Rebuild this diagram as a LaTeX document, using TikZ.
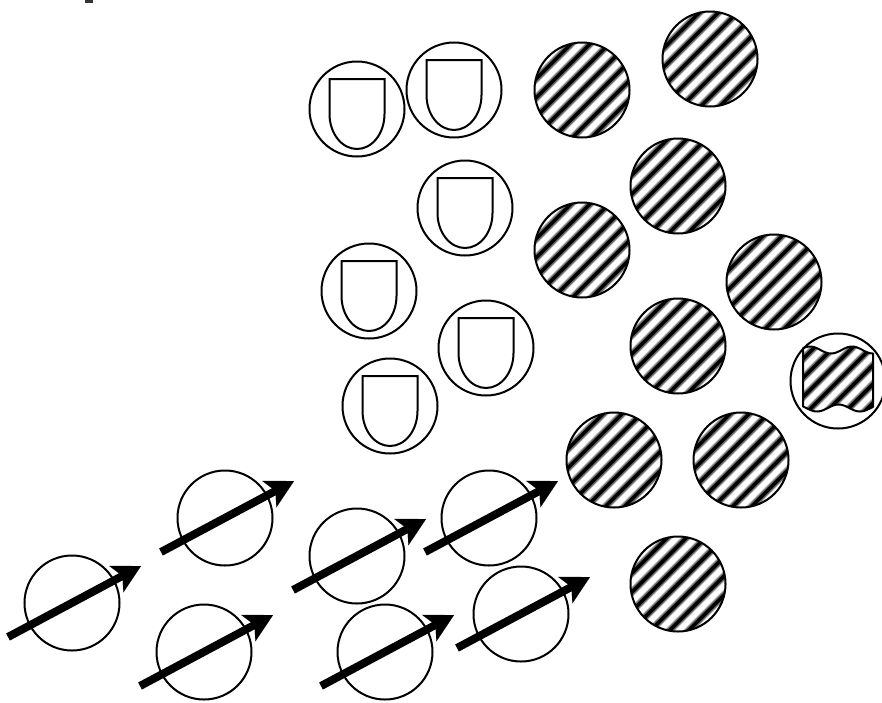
\documentclass[tikz,border=0pt]{standalone}
\usetikzlibrary{arrows.meta}
\begin{document}
\begin{tikzpicture}[x=1pt,y=-1pt,
  ring/.style={circle, draw, line width=2pt, minimum size=95pt, inner sep=0pt, fill=white},
  hatchc/.style={ring, path picture={
    \foreach \t in {-133,-114,...,133}{
      \draw[black!25, line width=8pt] ([shift={(\t-70,70)}]path picture bounding box.center) -- ++(140,-140);
      \draw[black!60, line width=6pt] ([shift={(\t-70,70)}]path picture bounding box.center) -- ++(140,-140);
      \draw[black, line width=3.5pt] ([shift={(\t-70,70)}]path picture bounding box.center) -- ++(140,-140);
    }}},
  shieldline/.style={line width=2pt, line join=miter},
  bigarrow/.style={line width=8pt, -{Stealth[length=28pt,width=30pt,inset=7pt,line width=0.1pt]}}
]
\useasboundingbox (0,0) rectangle (882,702);
\fill[black!80] (85,0) rectangle (93,2.5);

% shield circles
\foreach \n/\p in {s1/{(357,109)}, s2/{(454,90)}, s3/{(465,208)}, s4/{(369,291)}, s5/{(486,348)}, s6/{(390,406)}}{
  \node[ring] (\n) at \p {};
  \draw[shieldline] ([shift={(-27.5,5)}]\n.center) -- ([shift={(-27.5,-30)}]\n.center)
     -- ([shift={(27.5,-30)}]\n.center) -- ([shift={(27.5,5)}]\n.center)
     arc[start angle=0, end angle=180, x radius=27.5, y radius=35] -- cycle;
}

% hatched circles
\node[hatchc] (h1) at (582,90) {};
\node[hatchc] (h2) at (710,59) {};
\node[hatchc] (h3) at (678,186) {};
\node[hatchc] (h4) at (582,250) {};
\node[hatchc] (h5) at (774,282) {};
\node[hatchc] (h6) at (678,346) {};
\node[hatchc] (h8) at (614,460) {};
\node[hatchc] (h9) at (741,460) {};
\node[hatchc] (h10) at (678,584) {};

% circle with waving flag
\node[ring] (h7) at (838,381) {};
\begin{scope}[shift={(838,381)}]
  \def\flagpath{(-35,-32) -- plot[domain=-35:35, samples=50] (\x, {-31-3.5*cos(8.571*(\x+28))})
     -- plot[domain=35:-35, samples=50] (\x, {27+3.5*cos(8.372*(\x+21))}) -- cycle}
  \begin{scope}
    \clip \flagpath;
    \foreach \t in {-133,-114,...,133}{
      \draw[black!25, line width=8pt] (\t-70,70) -- ++(140,-140);
      \draw[black!60, line width=6pt] (\t-70,70) -- ++(140,-140);
      \draw[black, line width=3.5pt] (\t-70,70) -- ++(140,-140);
    }
  \end{scope}
  \draw[line width=2pt, line join=round] \flagpath;
\end{scope}

% arrow circles
\foreach \n/\p in {a1/{(72,603)}, a2/{(225,518)}, a3/{(357,556)}, a4/{(489,518)}, a5/{(204,652)}, a6/{(385,652)}, a7/{(521,614)}}{
  \node[ring, fill=none] (\n) at \p {};
}
\foreach \n in {a1,a2,a3,a4,a5,a6,a7}{
  \draw[bigarrow] ([shift={(-64,34)}]\n.center) -- ([shift={(69,-37)}]\n.center);
}
\end{tikzpicture}
\end{document}
